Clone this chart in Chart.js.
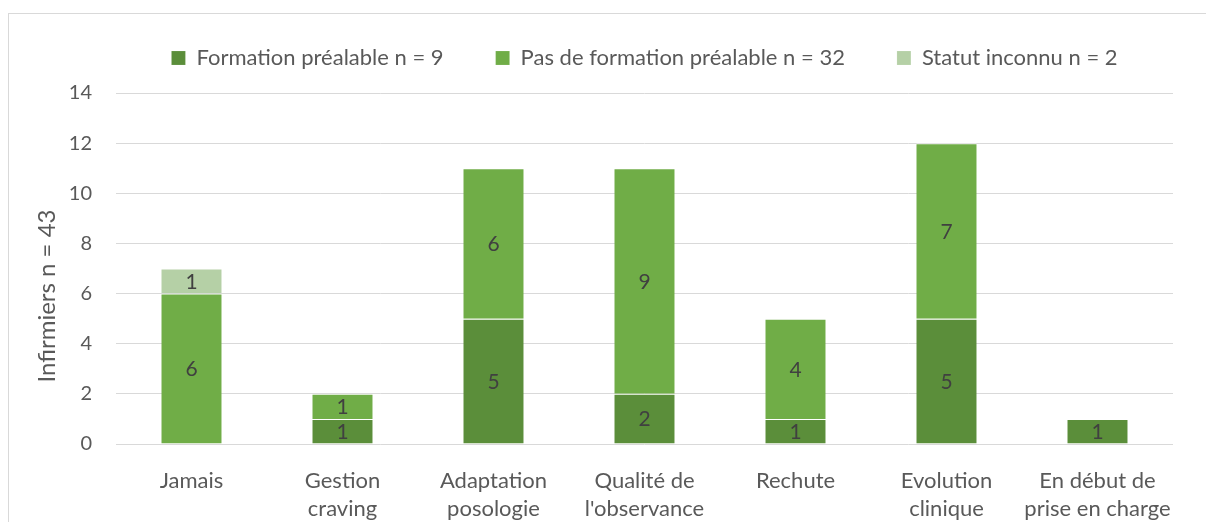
<!DOCTYPE html>
<html lang="fr">
<head>
<meta charset="utf-8">
<title>Infirmiers</title>
<script src="https://cdn.jsdelivr.net/npm/chart.js@4.4.1/dist/chart.umd.min.js"></script>
<style>
  html, body { margin: 0; padding: 0; background: #fff; }
  #wrap { position: relative; width: 1206px; height: 522px; overflow: hidden; }
  #frame { position: absolute; left: 8px; top: 13px; width: 1400px; height: 700px;
           border-left: 1px solid #d9d9d9; border-top: 1px solid #d9d9d9; pointer-events: none; }
  canvas { position: absolute; left: 0; top: 0; }
</style>
</head>
<body>
<div id="wrap">
  <canvas id="chart" width="1206" height="522"></canvas>
  <div id="frame"></div>
</div>
<script>
const categories = [
	'Jamais',
	['Gestion', 'craving'],
	['Adaptation', 'posologie'],
	['Qualité de', "l'observance"],
	'Rechute',
	['Evolution', 'clinique'],
	['En début de', 'prise en charge']
];
const formation = [0, 1, 5, 2, 1, 5, 1];
const sansFormation = [6, 1, 6, 9, 4, 7, 0];
const inconnu = [1, 0, 0, 0, 0, 0, 0];
const yTicks = [0, 2, 4, 6, 8, 10, 12, 14];
const yTitle = 'Infirmiers n = 43';

const textColor = '#595959';
const fontFamily = 'Lato, "Open Sans", sans-serif';

// write each non-zero value in the middle of its segment
const segmentLabels = {
	id: 'segmentLabels',
	afterDatasetsDraw(chart) {
		const ctx = chart.ctx;
		ctx.save();
		ctx.font = '21px ' + fontFamily;
		ctx.fillStyle = '#404040';
		ctx.textAlign = 'center';
		ctx.textBaseline = 'middle';
		chart.data.datasets.forEach((ds, i) => {
			const meta = chart.getDatasetMeta(i);
			meta.data.forEach((bar, j) => {
				const v = ds.data[j];
				if (!v) return;
				ctx.fillText(String(v), bar.x, (bar.y + bar.base) / 2 + 1);
			});
		});
		ctx.restore();
	}
};

// vertical title of the value axis
const axisTitle = {
	id: 'axisTitle',
	afterDraw(chart) {
		const ctx = chart.ctx;
		ctx.save();
		ctx.translate(47, 296);
		ctx.rotate(-Math.PI / 2);
		ctx.font = '24px ' + fontFamily;
		ctx.fillStyle = textColor;
		ctx.textAlign = 'center';
		ctx.textBaseline = 'middle';
		ctx.fillText(yTitle, 0, 0);
		ctx.restore();
	}
};

// keep the legend short so the plot starts right under it
const legendHeight = {
	id: 'legendHeight',
	afterInit(chart) {
		const lg = chart.legend;
		const fit = lg.fit;
		lg.fit = function () {
			fit.call(this);
			this.height = 98;
		};
	}
};

new Chart(document.getElementById('chart'), {
	type: 'bar',
	data: {
		labels: categories,
		datasets: [{
			label: 'Formation préalable n = 9',
			data: formation,
			backgroundColor: '#5b8e3a',
			borderColor: 'rgba(255,255,255,0.55)',
			borderWidth: { top: 1 },
			borderSkipped: false
		}, {
			label: 'Pas de formation préalable n = 32',
			data: sansFormation,
			backgroundColor: '#70ad47',
			borderColor: 'rgba(255,255,255,0.55)',
			borderWidth: { top: 1 },
			borderSkipped: false
		}, {
			label: 'Statut inconnu n = 2',
			data: inconnu,
			backgroundColor: '#b5d0a6',
			borderColor: 'rgba(255,255,255,0.55)',
			borderWidth: { top: 1 },
			borderSkipped: false
		}]
	},
	options: {
		responsive: false,
		animation: false,
		layout: { padding: { top: -5, right: 33, bottom: 0, left: 0 } },
		datasets: { bar: { categoryPercentage: 1, barPercentage: 0.4 } },
		plugins: {
			legend: {
				position: 'top',
				fullSize: false,
				labels: {
					color: textColor,
					font: { family: fontFamily, size: 22 },
					boxWidth: 14,
					boxHeight: 14,
					padding: 52
				}
			},
			tooltip: { enabled: false }
		},
		scales: {
			x: {
				stacked: true,
				grid: { display: false },
				border: { display: false },
				ticks: {
					color: textColor,
					font: { family: fontFamily, size: 22, lineHeight: 1.27 },
					padding: 15,
					maxRotation: 0
				},
				afterFit(scale) { scale.height = 78; }
			},
			y: {
				stacked: true,
				min: 0,
				max: 14,
				afterBuildTicks(scale) { scale.ticks = yTicks.map(v => ({ value: v })); },
				grid: { color: '#d9d9d9', lineWidth: 1, drawTicks: false },
				border: { display: false },
				ticks: {
					color: textColor,
					font: { family: fontFamily, size: 20 },
					padding: 24
				},
				afterFit(scale) { scale.width = 116; }
			}
		}
	},
	plugins: [segmentLabels, axisTitle, legendHeight]
});
</script>
</body>
</html>
